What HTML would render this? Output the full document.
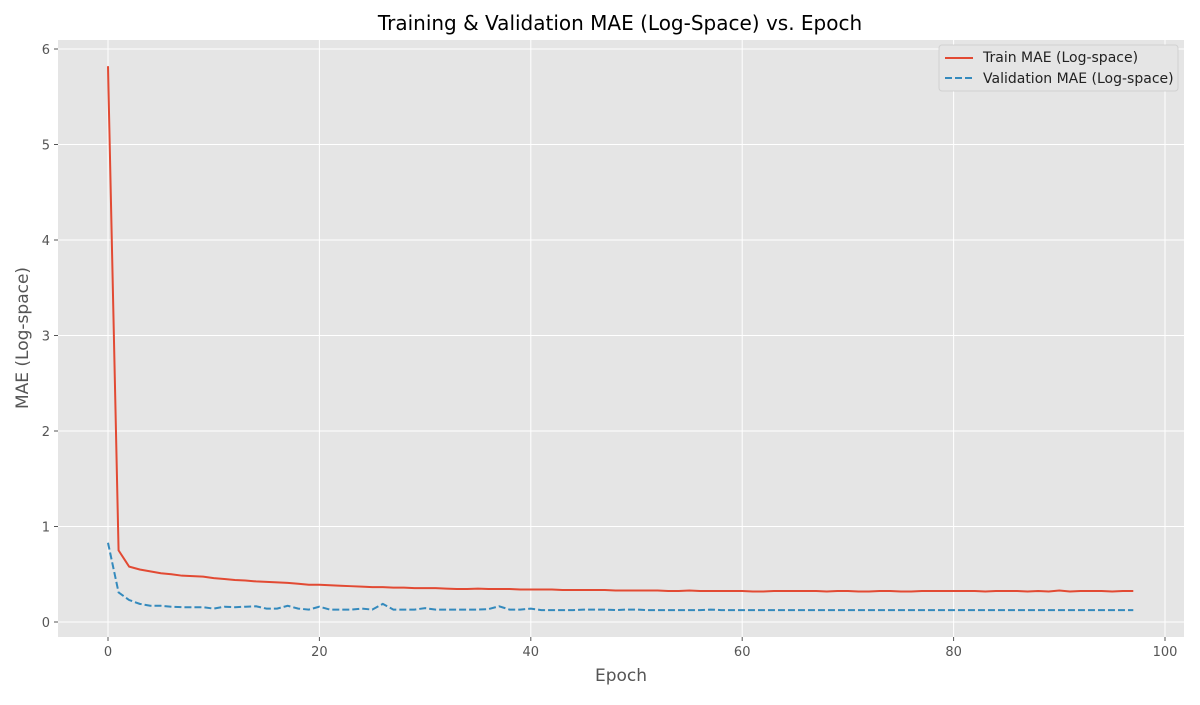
<!DOCTYPE html>
<html><head><meta charset="utf-8"><style>
body{margin:0;background:#fff;font-family:"Liberation Sans","DejaVu Sans",sans-serif}
svg text{font-family:"DejaVu Sans","Liberation Sans",sans-serif}
</style></head><body>
<svg id="chart" width="1200" height="700"></svg>
<script>
const xTicks=[0,20,40,60,80,100];
const yTicks=[0,1,2,3,4,5,6];
const trainMAE=[5.82,0.75,0.58,0.55,0.53,0.51,0.50,0.485,0.48,0.475,0.46,0.45,0.44,0.435,0.425,0.42,0.415,0.41,0.40,0.39,0.39,0.385,0.38,0.375,0.37,0.365,0.365,0.36,0.36,0.355,0.355,0.355,0.35,0.345,0.345,0.35,0.345,0.345,0.345,0.34,0.34,0.34,0.34,0.335,0.335,0.335,0.335,0.335,0.33,0.33,0.33,0.33,0.33,0.325,0.325,0.33,0.325,0.325,0.325,0.325,0.325,0.32,0.32,0.325,0.325,0.325,0.325,0.325,0.32,0.325,0.325,0.32,0.32,0.325,0.325,0.32,0.32,0.325,0.325,0.325,0.325,0.325,0.325,0.32,0.325,0.325,0.325,0.32,0.325,0.32,0.33,0.32,0.325,0.325,0.325,0.32,0.325,0.325];
const valMAE=[0.83,0.31,0.23,0.19,0.17,0.17,0.16,0.155,0.155,0.155,0.14,0.16,0.155,0.16,0.165,0.14,0.14,0.17,0.14,0.13,0.16,0.13,0.13,0.13,0.14,0.13,0.19,0.13,0.13,0.13,0.145,0.13,0.13,0.13,0.13,0.13,0.135,0.165,0.13,0.13,0.14,0.125,0.125,0.125,0.125,0.13,0.13,0.13,0.125,0.13,0.13,0.125,0.125,0.125,0.125,0.125,0.125,0.13,0.125,0.125,0.125,0.125,0.125,0.125,0.125,0.125,0.125,0.125,0.125,0.125,0.125,0.125,0.125,0.125,0.125,0.125,0.125,0.125,0.125,0.125,0.125,0.125,0.125,0.125,0.125,0.125,0.125,0.125,0.125,0.125,0.125,0.125,0.125,0.125,0.125,0.125,0.125,0.125];
const NS="http://www.w3.org/2000/svg";
const svg=document.getElementById('chart');
const L=58,R=1184,T=40,B=637;
const xs=v=>108+(v-0)*(1165-108)/100;
const ys=v=>622-v*(622-49)/6;
function mk(tag,attrs,parent){const e=document.createElementNS(NS,tag);for(const k in attrs)e.setAttribute(k,attrs[k]);(parent||svg).appendChild(e);return e;}
const bg=mk('rect',{x:L,y:T,width:R-L,height:B-T,fill:'#e5e5e5'});


xTicks.forEach(t=>{const x=xs(t);
 const g=mk('line',{x1:x,x2:x,y1:T,y2:B,stroke:'#fff','stroke-width':1});
 
 mk('line',{x1:x,x2:x,y1:B,y2:B+4,stroke:'#555'});
 const tx=mk('text',{x:x,y:B+19,'text-anchor':'middle','font-size':13,fill:'#555'});tx.textContent=t;
 });
yTicks.forEach(t=>{const y=ys(t);
 const g=mk('line',{x1:L,x2:R,y1:y,y2:y,stroke:'#fff','stroke-width':1});
 
 mk('line',{x1:L-4,x2:L,y1:y,y2:y,stroke:'#555'});
 const tx=mk('text',{x:L-8,y:y+5,'text-anchor':'end','font-size':13,fill:'#555'});tx.textContent=t;
 });
const p1=mk('polyline',{points:trainMAE.map((v,i)=>xs(i)+','+ys(v)).join(' '),fill:'none',stroke:'#e24a33','stroke-width':2});

const p2=mk('polyline',{points:valMAE.map((v,i)=>xs(i)+','+ys(v)).join(' '),fill:'none',stroke:'#348abd','stroke-width':2,'stroke-dasharray':'7,3'});

const t1=mk('text',{x:620,y:30,'text-anchor':'middle','font-size':20,fill:'#000'});t1.textContent='Training & Validation MAE (Log-Space) vs. Epoch';

const t2=mk('text',{x:621,y:681,'text-anchor':'middle','font-size':17,fill:'#555'});t2.textContent='Epoch';

const t3=mk('text',{x:28,y:338,'text-anchor':'middle','font-size':17,fill:'#555',transform:'rotate(-90 28 338)'});t3.textContent='MAE (Log-space)';

const lg=mk('g',{});

mk('rect',{x:939,y:45,width:239,height:46,rx:3,fill:'#e5e5e5',stroke:'#ccc','stroke-opacity':0.8},lg);
mk('line',{x1:945,x2:973,y1:58,y2:58,stroke:'#e24a33','stroke-width':2},lg);
mk('line',{x1:945,x2:973,y1:78,y2:78,stroke:'#348abd','stroke-width':2,'stroke-dasharray':'7,3'},lg);
const l1=mk('text',{x:983,y:62,'font-size':14,fill:'#222'},lg);l1.textContent='Train MAE (Log-space)';

const l2=mk('text',{x:983,y:83,'font-size':14,fill:'#222'},lg);l2.textContent='Validation MAE (Log-space)';

</script>
</body></html>
